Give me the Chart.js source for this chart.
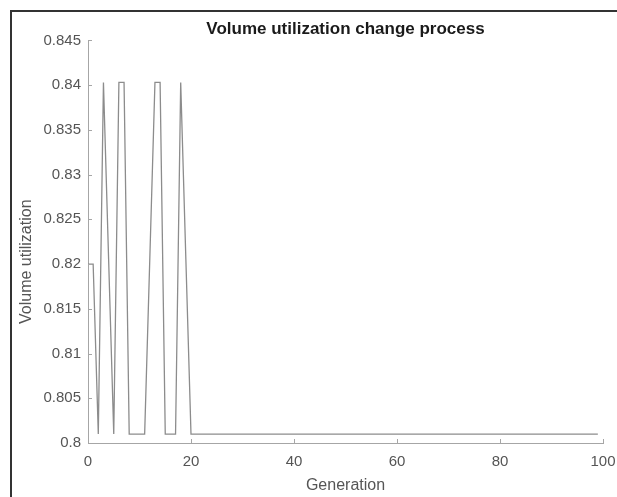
<!DOCTYPE html>
<html>
<head>
<meta charset="utf-8">
<script src="https://cdn.jsdelivr.net/npm/chart.js@4"></script>
<style>
  body { margin: 0; background: #fff; }
  #wrap { position: relative; width: 617px; height: 497px; }
  #frame { position: absolute; left: 10px; top: 10px; right: -2px; bottom: -2px;
           border-top: 2px solid #333; border-left: 2px solid #333; pointer-events: none; }
</style>
</head>
<body>
<div id="wrap">
  <canvas id="chart" width="617" height="497"></canvas>
  <div id="frame"></div>
</div>
<script>
// volume utilization per generation (generation = index)
const volumeUtil = [
  0.82, 0.82, 0.801, 0.8403, 0.8206, 0.801, 0.8403, 0.8403, 0.801, 0.801,
  0.801, 0.801, 0.8206, 0.8403, 0.8403, 0.801, 0.801, 0.801, 0.8403, 0.8206,
  0.801, 0.801, 0.801, 0.801, 0.801, 0.801, 0.801, 0.801, 0.801, 0.801,
  0.801, 0.801, 0.801, 0.801, 0.801, 0.801, 0.801, 0.801, 0.801, 0.801,
  0.801, 0.801, 0.801, 0.801, 0.801, 0.801, 0.801, 0.801, 0.801, 0.801,
  0.801, 0.801, 0.801, 0.801, 0.801, 0.801, 0.801, 0.801, 0.801, 0.801,
  0.801, 0.801, 0.801, 0.801, 0.801, 0.801, 0.801, 0.801, 0.801, 0.801,
  0.801, 0.801, 0.801, 0.801, 0.801, 0.801, 0.801, 0.801, 0.801, 0.801,
  0.801, 0.801, 0.801, 0.801, 0.801, 0.801, 0.801, 0.801, 0.801, 0.801,
  0.801, 0.801, 0.801, 0.801, 0.801, 0.801, 0.801, 0.801, 0.801, 0.801
];
const xTicks = [0, 20, 40, 60, 80, 100];
const yTicks = [0.8, 0.805, 0.81, 0.815, 0.82, 0.825, 0.83, 0.835, 0.84, 0.845];

const axisCol = '#a6a6a6';
const textCol = '#555555';
const font = 'Liberation Sans, Arial, sans-serif';

// matlab style ticks pointing into the plot
const innerTicks = {
    id: 'innerTicks',
    afterDatasetsDraw(chart) {
        const {ctx, chartArea: a, scales: {x, y}} = chart;
        ctx.save();
        ctx.strokeStyle = axisCol;
        ctx.lineWidth = 1;
        ctx.beginPath();
        xTicks.forEach(v => {
            const px = Math.round(x.getPixelForValue(v)) + 0.5;
            ctx.moveTo(px, a.bottom); ctx.lineTo(px, a.bottom - 4);
        });
        yTicks.forEach(v => {
            const py = Math.round(y.getPixelForValue(v)) + 0.5;
            ctx.moveTo(a.left, py); ctx.lineTo(a.left + 4, py);
        });
        ctx.stroke();
        ctx.restore();
    }
};

new Chart(document.getElementById('chart'), {
    type: 'line',
    data: {
        datasets: [{
            data: volumeUtil.map((v, i) => ({ x: i, y: v })),
            borderColor: '#8c8c8c',
            borderWidth: 1.3,
            pointRadius: 0,
            tension: 0,
            fill: false
        }]
    },
    options: {
        responsive: false,
        animation: false,
        layout: { padding: { left: 0, right: 0, top: 0, bottom: 0 } },
        plugins: {
            legend: { display: false },
            tooltip: { enabled: false },
            title: {
                display: true,
                fullSize: false,
                text: 'Volume utilization change process',
                color: '#1a1a1a',
                font: { family: font, size: 17, weight: 'bold' },
                padding: { top: 19, bottom: 1 }
            }
        },
        scales: {
            x: {
                type: 'linear',
                min: 0, max: 100,
                afterBuildTicks: s => { s.ticks = xTicks.map(v => ({ value: v })); },
                afterFit: s => { s.height = 54; s.paddingRight = 14; s.paddingLeft = 0; },
                grid: { drawOnChartArea: false, drawTicks: false },
                border: { color: axisCol, width: 1 },
                ticks: { color: textCol, font: { family: font, size: 15 }, padding: 10, maxRotation: 0 },
                title: {
                    display: true, text: 'Generation', color: textCol,
                    font: { family: font, size: 16 }, padding: { top: 0, bottom: 2 }
                }
            },
            y: {
                min: 0.8, max: 0.845,
                afterBuildTicks: s => { s.ticks = yTicks.map(v => ({ value: v })); },
                afterFit: s => { s.width = 88; },
                grid: { drawOnChartArea: false, drawTicks: false },
                border: { color: axisCol, width: 1 },
                ticks: {
                    color: textCol, font: { family: font, size: 15 }, padding: 7,
                    callback: v => String(parseFloat(v.toFixed(3)))
                },
                title: {
                    display: true, text: 'Volume utilization         ', color: textCol,
                    font: { family: font, size: 16 }, padding: { top: 17, bottom: 0 }
                }
            }
        }
    },
    plugins: [innerTicks]
});
</script>
</body>
</html>
